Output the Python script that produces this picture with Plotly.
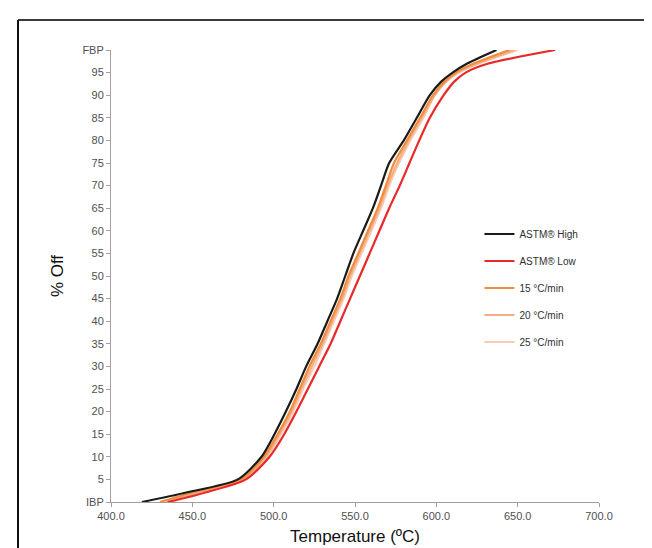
import plotly.graph_objects as go

pct = [0, 2, 5, 10, 15, 20, 25, 30, 35, 40, 45, 50, 55, 60, 65, 70, 75, 80, 85, 90, 93, 95, 97, 100]

astm_high = [419, 445, 478, 492.5, 500.5, 507.5, 514, 520, 527, 533, 539, 544, 549, 555, 561, 566, 571, 580, 588, 596, 603, 610, 619, 637]
astm_low  = [435, 457, 483, 497.5, 506.5, 514, 521, 528, 535, 541, 547, 553, 559, 565, 571, 577.5, 583.5, 589.5, 596, 604.5, 611, 618, 632, 673]
r15 = [430, 449, 480, 494, 502.5, 510, 516, 522, 529, 535, 541, 546, 552, 558, 564, 569, 574, 582, 590, 598, 605, 612, 623, 645]
r20 = [434, 452, 481, 495, 503.5, 511, 517, 523.5, 530, 536, 542, 547, 553, 559, 565, 570, 576, 583, 591, 599, 606, 613, 625, 648]
r25 = [437, 455, 482, 496, 504.5, 512, 518, 525, 531, 537, 543, 548, 554, 560, 566, 571, 577, 584, 592, 599, 606, 614, 626, 650]

series = [
    ("ASTM® High", astm_high, "#1a1a1a"),
    ("ASTM® Low", astm_low, "#e9282a"),
    ("15 °C/min", r15, "#f08c3e"),
    ("20 °C/min", r20, "#f6ae80"),
    ("25 °C/min", r25, "#f9cbb6"),
]

y_tickvals = list(range(0, 101, 5))
y_ticktext = ["IBP"] + [str(v) for v in range(5, 100, 5)] + ["FBP"]

fig = go.Figure()
# lighter curves drawn first so the black one stays on top
for i in [4, 3, 2, 1, 0]:
    name, temps, col = series[i]
    fig.add_trace(go.Scatter(
        x=temps, y=pct, mode="lines", name=name, legendgroup=name,
        legendrank=i + 1,
        line=dict(color=col, width=2.2, shape="spline", smoothing=0.7),
    ))

font_fam = "Liberation Sans Narrow, Liberation Sans, Arial"
fig.update_layout(
    width=652, height=548,
    margin=dict(l=103, r=61, t=42, b=54),
    paper_bgcolor="white", plot_bgcolor="white",
    font=dict(family=font_fam, color="#404040"),
    showlegend=True,
    legend=dict(x=0.755, y=0.625, xanchor="left", yanchor="top",
                font=dict(size=10, color="#303030", family=font_fam),
                bgcolor="rgba(0,0,0,0)", tracegroupgap=8, itemwidth=30,
                traceorder="grouped"),
    xaxis=dict(range=[400, 700], dtick=50, tick0=400, tickformat=".1f",
               showgrid=False, zeroline=False, showline=True, linecolor="#a89c9c",
               linewidth=1, ticks="outside", ticklen=4, tickcolor="#a89c9c",
               tickfont=dict(size=11, color="#505050"),
               title=dict(text="Temperature (ºC)", font=dict(size=17, color="#111111"), standoff=8)),
    yaxis=dict(range=[0, 100], tickvals=y_tickvals, ticktext=y_ticktext,
               showgrid=False, zeroline=False, showline=True, linecolor="#a89c9c",
               linewidth=1, ticks="outside", ticklen=4, tickcolor="#a89c9c",
               tickfont=dict(size=11, color="#505050"),
               title=dict(text="% Off", font=dict(size=17, color="#111111"), standoff=14)),
)

# frame lines (top and left border of the original figure)
fig.add_shape(type="line", xref="paper", yref="paper",
              x0=(10 - 103) / 488, x1=(660 - 103) / 488,
              y0=(494 - 12) / 452, y1=(494 - 12) / 452,
              line=dict(color="#3a3a3a", width=2))
fig.add_shape(type="line", xref="paper", yref="paper",
              x0=(10 - 103) / 488, x1=(10 - 103) / 488,
              y0=(494 - 12) / 452, y1=(494 - 560) / 452,
              line=dict(color="#111111", width=2))

fig.write_html("out.html")
